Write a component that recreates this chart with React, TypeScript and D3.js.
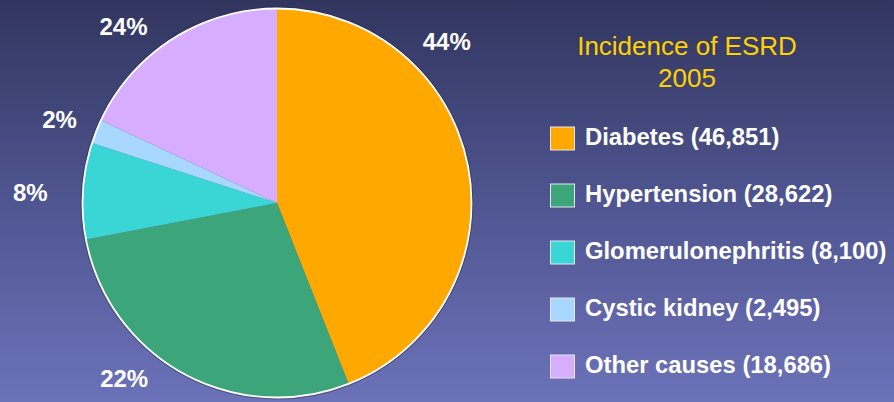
import React from "react";
import * as d3 from "d3";

const categories = ["Diabetes", "Hypertension", "Glomerulonephritis", "Cystic kidney", "Other causes"];
const counts = [46851, 28622, 8100, 2495, 18686];
// slice shares (%) as drawn in the original pie
const pieShares = [44, 28, 8, 2, 18];
const colors = ["#FFA800", "#3DA57A", "#3AD6D6", "#A8D8FF", "#D7AEFF"];
const percentLabels = ["44%", "22%", "8%", "2%", "24%"];
// label placement (degrees clockwise from 12 o'clock, radius) as on the original slide
const percentLabelAngles = [46.5, 221, 272.5, 291, 319];
const percentLabelRadii = [234, 233, 247, 233, 234];
const titleLines = ["Incidence of ESRD", "2005"];

const W = 894;
const H = 402;

export default function App() {
  const cx = 277;
  const cy = 203;
  const r = 194.5;
  const pie = d3.pie<number>().sort(null).value((d) => d);
  const arcs = pie(pieShares);
  const arc = d3.arc<d3.PieArcDatum<number>>().innerRadius(0).outerRadius(r);
  const fmt = d3.format(",");
  const rowY = d3.scaleLinear().domain([0, 1]).range([145, 202]);

  return (
    <svg
      width={W}
      height={H}
      style={{ position: "absolute", left: 0, top: 0, display: "block" }}
      fontFamily="'Liberation Sans', Arial, sans-serif"
    >
      <defs>
        <linearGradient id="bg" x1="0" y1="0" x2="0" y2="1">
          <stop offset="0" stopColor="#31355e" />
          <stop offset="0.5" stopColor="#4f5590" />
          <stop offset="1" stopColor="#6c72b8" />
        </linearGradient>
      </defs>
      <rect x={0} y={0} width={W} height={H} fill="url(#bg)" />
      <g transform={`translate(${cx},${cy})`}>
        <circle r={r + 1.2} fill="none" stroke="#2a2d50" strokeOpacity={0.5} strokeWidth={1.5} />
        {arcs.map((a, i) => (
          <path key={i} d={arc(a) || ""} fill={colors[i]} />
        ))}
        <circle r={r} fill="none" stroke="#ffffff" strokeWidth={1.8} />
        {percentLabels.map((t, i) => {
          const ang = (percentLabelAngles[i] * Math.PI) / 180;
          const lr = percentLabelRadii[i];
          const x = lr * Math.sin(ang);
          const y = -lr * Math.cos(ang);
          return (
            <text
              key={t + i}
              x={x}
              y={y}
              dy="0.35em"
              textAnchor="middle"
              fill="#ffffff"
              fontWeight="bold"
              fontSize={24}
            >
              {t}
            </text>
          );
        })}
      </g>
      <text x={687} y={55} textAnchor="middle" fill="#FFD200" fontSize={26}>
        {titleLines[0]}
      </text>
      <text x={687} y={87} textAnchor="middle" fill="#FFD200" fontSize={26}>
        {titleLines[1]}
      </text>
      {categories.map((c, i) => {
        const y = rowY(i);
        return (
          <g key={c}>
            <rect
              x={550.5}
              y={y - 18}
              width={24}
              height={23}
              fill={colors[i]}
              stroke="#e6e6ee"
              strokeWidth={1}
            />
            <text x={585} y={y} fill="#ffffff" fontWeight="bold" fontSize={23.8}>
              {`${c} (${fmt(counts[i])})`}
            </text>
          </g>
        );
      })}
    </svg>
  );
}
